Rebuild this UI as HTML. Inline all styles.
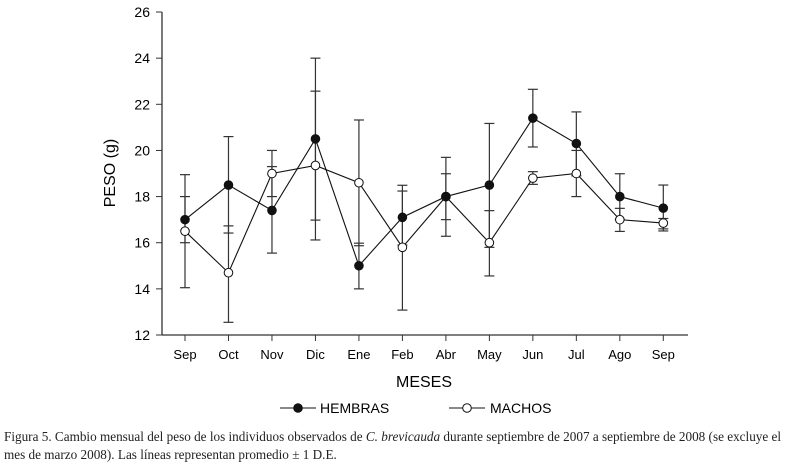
<!DOCTYPE html>
<html><head><meta charset="utf-8"><style>
body{margin:0;background:#fff;width:793px;height:465px;overflow:hidden}
svg text{font-family:"Liberation Sans",sans-serif}
.cap{position:absolute;left:4px;top:428px;width:788px;font-family:"Liberation Serif",serif;font-size:13.2px;line-height:18px;color:#222;white-space:nowrap}
</style></head><body>
<svg width="793" height="465" style="position:absolute;left:0;top:0" id="c"></svg>
<div class="cap">Figura 5. Cambio mensual del peso de los individuos observados de <i>C. brevicauda</i> durante septiembre de 2007 a septiembre de 2008 (se excluye el<br>mes de marzo 2008). Las líneas representan promedio ± 1 D.E.</div>
<script>
const months=["Sep","Oct","Nov","Dic","Ene","Feb","Abr","May","Jun","Jul","Ago","Sep"];
const hembras=[17.0,18.5,17.4,20.5,15.0,17.1,18.0,18.5,21.4,20.3,18.0,17.5];
const hembrasLow=[16.0,16.42,15.55,16.12,14.0,15.9,17.0,15.8,20.15,18.9,17.0,16.6];
const hembrasHigh=[18.95,20.6,19.3,24.0,15.98,18.49,18.99,21.17,22.65,21.67,18.99,18.5];
const machos=[16.5,14.7,19.0,19.35,18.6,15.8,18.0,16.0,18.8,19.0,17.0,16.85];
const machosLow=[14.05,12.55,18.0,16.98,15.87,13.08,16.28,14.56,18.53,18.0,16.49,16.51];
const machosHigh=[18.0,16.73,20.0,22.57,21.32,18.24,19.70,17.39,19.08,20.0,17.49,17.05];
const yTicks=[12,14,16,18,20,22,24,26];
const NS="http://www.w3.org/2000/svg",svg=document.getElementById("c");
const X0=185,DX=(663.3-185)/11;
const xs=i=>X0+i*DX, ys=v=>335-(v-12)*23.07;
function el(t,a,p){const e=document.createElementNS(NS,t);for(const k in a)e.setAttribute(k,a[k]);(p||svg).appendChild(e);return e;}
let ax=el("line",{x1:162,y1:12,x2:162,y2:335,stroke:"#333","stroke-width":1.3});


let bx=el("line",{x1:162,y1:335,x2:688,y2:335,stroke:"#333","stroke-width":1.3});


yTicks.forEach(v=>{
  el("line",{x1:156,y1:ys(v),x2:162,y2:ys(v),stroke:"#333"});
  const t=el("text",{x:150,y:ys(v)+5,"text-anchor":"end","font-size":14});t.textContent=v;
  
  
});
months.forEach((m,i)=>{
  el("line",{x1:xs(i),y1:335,x2:xs(i),y2:341,stroke:"#333"});
  const t=el("text",{x:xs(i),y:359,"text-anchor":"middle","font-size":13});t.textContent=m;
  
  
});
let yt=el("text",{x:115,y:173,"text-anchor":"middle","font-size":16,transform:"rotate(-90 115 173)"});yt.textContent="PESO (g)";


let xt=el("text",{x:424,y:387,"text-anchor":"middle","font-size":16});xt.textContent="MESES";


function errs(lo,hi,name){lo.forEach((l,i)=>{const x=xs(i);
  const g=el("g",{stroke:"#333","stroke-width":1.2});
  
  
  el("line",{x1:x,y1:ys(l),x2:x,y2:ys(hi[i])},g);
  el("line",{x1:x-5,y1:ys(l),x2:x+5,y2:ys(l)},g);
  el("line",{x1:x-5,y1:ys(hi[i]),x2:x+5,y2:ys(hi[i])},g);});}
errs(hembrasLow,hembrasHigh,'hembras-error-bar');
errs(machosLow,machosHigh,'machos-error-bar');
function series(vals,fill,name){
  const p=el("polyline",{points:vals.map((v,i)=>xs(i)+","+ys(v)).join(" "),fill:"none",stroke:"#111","stroke-width":1.1});
  
  
  vals.forEach((v,i)=>{const c=el("circle",{cx:xs(i),cy:ys(v),r:4.3,fill:fill,stroke:"#111","stroke-width":1});
    
    });
}
series(machos,"#fff","machos");
series(hembras,"#111","hembras");
const lg=el("g",{});


el("line",{x1:280,y1:408,x2:316,y2:408,stroke:"#111"},lg);
el("circle",{cx:298,cy:408,r:4.3,fill:"#111",stroke:"#111"},lg);
let l1=el("text",{x:320,y:413,"font-size":14},lg);l1.textContent="HEMBRAS";


el("line",{x1:449,y1:408,x2:485,y2:408,stroke:"#111"},lg);
el("circle",{cx:467,cy:408,r:4.3,fill:"#fff",stroke:"#111"},lg);
let l2=el("text",{x:490,y:413,"font-size":14},lg);l2.textContent="MACHOS";


</script>
</body></html>
